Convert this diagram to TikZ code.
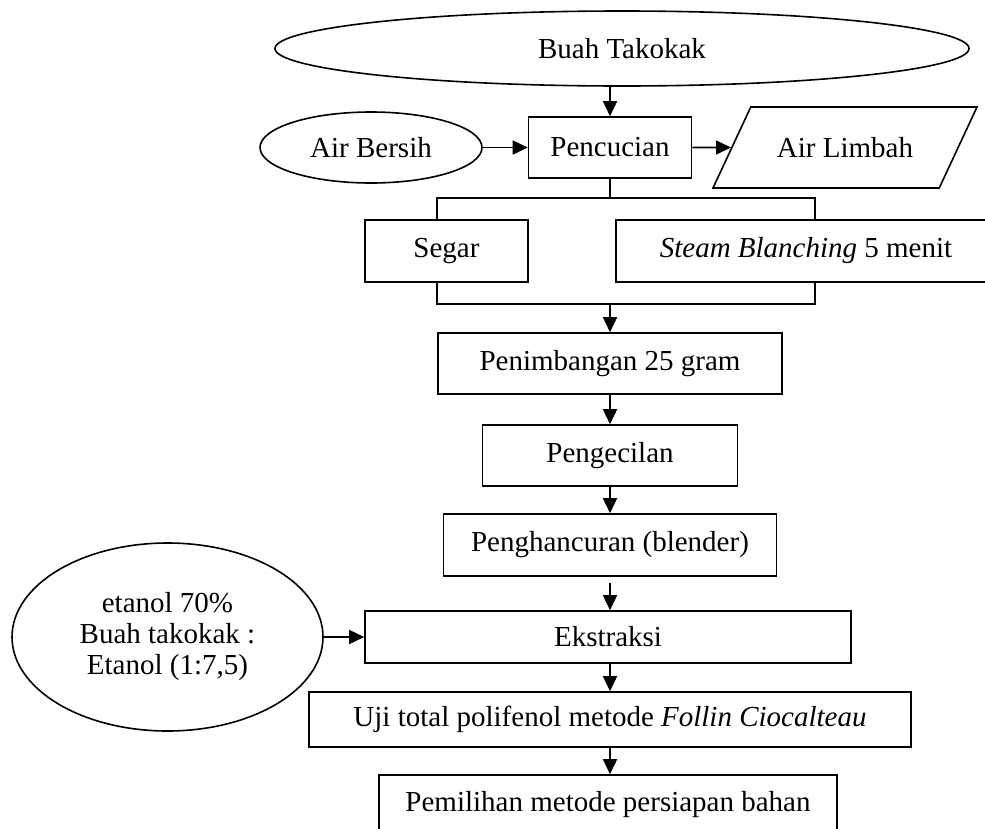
\documentclass[tikz,border=0pt]{standalone}
\usepackage{fontspec}
\setmainfont{Liberation Serif}
\usetikzlibrary{shapes,arrows.meta,positioning}

\begin{document}
\begin{tikzpicture}[
    x=1pt, y=-1pt,
    font=\fontsize{29}{31}\selectfont,
    prosesbox/.style={draw, rectangle, line width=1.6pt, inner sep=0pt, text centered},
    bahannode/.style={draw, ellipse, line width=1.6pt, inner sep=0pt, align=center},
    limbahnode/.style={draw, trapezium, trapezium left angle=65, trapezium right angle=115,
        trapezium stretches body, line width=1.6pt, inner xsep=0pt, inner ysep=30.5pt,
        text height=20pt, text depth=0pt},
    myedge/.style={-{Triangle[length=15pt,width=14pt]}, line width=1.6pt},
    myline/.style={line width=1.6pt}
]
\useasboundingbox (0,0) rectangle (985,828);

\node[bahannode, minimum width=694pt, minimum height=75pt] (buah) at (622,48.5) {Buah Takokak};
\node[prosesbox, minimum width=163pt, minimum height=61pt] (cuci) at (610,147.5) {Pencucian};
\node[bahannode, minimum width=222pt, minimum height=71pt] (bersih) at (371,147.5) {Air Bersih};
\node[limbahnode, minimum width=264pt] (limbah) at (845,147.5) {Air Limbah};

\node[prosesbox, minimum width=163pt, minimum height=62pt] (segar) at (446.5,251) {Segar};
\node[prosesbox, minimum width=380pt, minimum height=62pt] (steam) at (806,251) {\textit{Steam Blanching} 5 menit};
\coordinate (cabang) at (610,198);
\coordinate (kiri) at (437,198);
\coordinate (kanan) at (815,198);
\coordinate (gabung) at (610,304);

\node[prosesbox, minimum width=344pt, minimum height=61pt] (timbang) at (610,363.5) {Penimbangan 25 gram};
\node[prosesbox, minimum width=255pt, minimum height=61pt] (kecil) at (610,455.5) {Pengecilan};
\node[prosesbox, minimum width=333pt, minimum height=62pt] (hancur) at (610,545) {Penghancuran (blender)};
\node[prosesbox, minimum width=486pt, minimum height=52pt] (ekstrak) at (608,637) {Ekstraksi};
\node[bahannode, minimum width=311pt, minimum height=188pt] (etanol) at (167.5,637)
    {etanol 70\%\\Buah takokak :\\Etanol (1:7,5)};
\node[prosesbox, minimum width=602pt, minimum height=55pt] (uji) at (610,719.5)
    {Uji total polifenol metode \textit{Follin Ciocalteau}};
\node[prosesbox, minimum width=458pt, minimum height=60pt] (pilih) at (608,805) {Pemilihan metode persiapan bahan};

\draw[myedge] (buah.south -| cuci) -- (cuci);
\draw[myedge] (bersih) -- (cuci);
\draw[myedge] (cuci) -- (limbah);
\draw[myline] (cuci.south) -- (cabang);
\draw[myline] (kiri |- segar.north) -- (kiri) -- (kanan) -- (kanan |- steam.north);
\draw[myline] (kiri |- segar.south) -- (kiri |- gabung) -- (kanan |- gabung) -- (kanan |- steam.south);
\draw[myedge] (gabung) -- (timbang);
\draw[myedge] (timbang) -- (kecil);
\draw[myedge] (kecil) -- (hancur);
\draw[myedge, shorten <=6pt] (hancur) -- (hancur |- ekstrak.north);
\draw[myedge] (etanol) -- (ekstrak);
\draw[myedge] (uji |- ekstrak.south) -- (uji);
\draw[myedge] (uji) -- (uji |- pilih.north);
\end{tikzpicture}
\end{document}
